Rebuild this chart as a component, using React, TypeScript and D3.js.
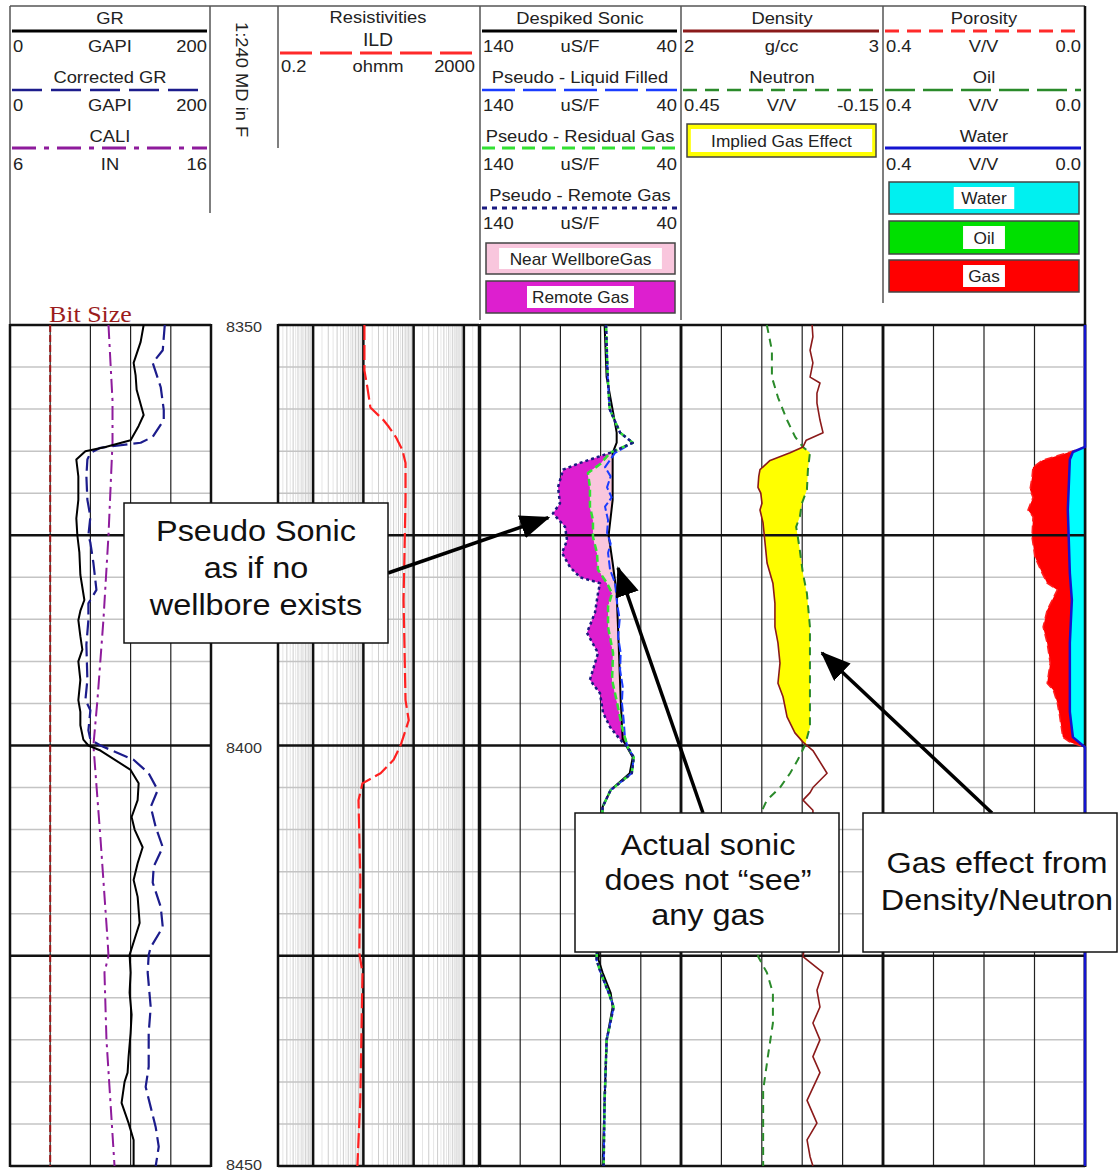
import React from "react";
import * as d3 from "d3";

type Pt = [number, number]; // [depth ft MD, curve value]

// depth window of the plot and the labelled depths
const depthRange: [number, number] = [8350, 8450];
const depthLabels = [8350, 8400, 8450];

// ---- track 1: gamma ray, corrected gamma ray, caliper, bit size
const grCurve: Pt[] = [
  [8350, 133], [8352, 130], [8354.5, 123], [8356, 125], [8357.7, 126], [8360.7, 133], [8362, 128],
  [8363.7, 120], [8364.5, 95], [8365, 75], [8366, 66], [8368, 68], [8370.8, 68], [8373, 66], [8375, 67],
  [8377, 69], [8379.7, 70], [8382.7, 74], [8384, 70], [8385.1, 68], [8387, 70], [8388.6, 72], [8390, 68],
  [8392.2, 70], [8394.6, 68], [8396, 70], [8397.6, 70], [8399.3, 73], [8400, 78], [8400.6, 90],
  [8402.9, 120], [8404.5, 128], [8406.5, 127], [8408.5, 121], [8410, 124], [8412.1, 132], [8414, 127],
  [8416, 123], [8418, 127], [8421.1, 129], [8423, 124], [8424.9, 119], [8427, 120], [8429.4, 119],
  [8432, 121], [8434.2, 120], [8437, 118], [8438.9, 117], [8440, 114], [8442.5, 111], [8444.9, 118],
  [8446.9, 123], [8450, 123],
];
const cgrCurve: Pt[] = [
  [8350, 154], [8353, 152], [8354.5, 142], [8357.4, 150], [8360.1, 153], [8361.3, 153], [8363.3, 142],
  [8364, 130], [8364.6, 90], [8365.2, 80], [8366, 77], [8368, 76], [8370.8, 77], [8372.8, 80], [8375, 78],
  [8375.9, 80], [8378.3, 83], [8381.5, 86], [8383.1, 78], [8385.1, 78], [8388, 76], [8392.2, 77],
  [8394.6, 75], [8395.8, 80], [8398.2, 78], [8399.3, 80], [8400, 90], [8401.7, 123], [8403.3, 138],
  [8405.3, 147], [8407.3, 140], [8409.7, 145], [8412.1, 152], [8414.4, 143], [8416.3, 142], [8419.2, 150],
  [8421.6, 152], [8424, 140], [8424.9, 138], [8427, 137], [8431.1, 140], [8434.2, 138], [8438.2, 138],
  [8440.6, 135], [8443, 140], [8445.4, 145], [8447.7, 148], [8450, 145],
];
const caliCurve: Pt[] = [
  [8350, 10.9], [8359, 11.1], [8364, 11.1], [8375, 10.9], [8385, 10.65], [8394.6, 10.35], [8400, 10.15],
  [8411, 10.5], [8423, 10.85], [8425, 10.9], [8427, 10.7], [8435, 10.8], [8450, 11.2],
];
const bitSize: Pt[] = [[8350, 8], [8450, 8]];

// ---- track 2: deep induction resistivity (ohmm)
const ildCurve: Pt[] = [
  [8350, 10.5], [8355.4, 10.5], [8357.4, 12], [8359.8, 13.8], [8361.3, 25], [8362.1, 32], [8363.3, 44],
  [8364.9, 60], [8366.4, 69], [8370.8, 69], [8382.7, 63], [8394.6, 69], [8397, 80], [8399.3, 60],
  [8400, 55], [8401.7, 40], [8403.3, 22], [8404.5, 9.6], [8406.5, 8], [8416, 8.7], [8424.7, 8.3],
  [8427, 9.6], [8442, 8.7], [8450, 7.6],
];

// ---- track 3: sonic (uS/F)
const dtCurve: Pt[] = [
  [8350, 78], [8356.2, 77], [8360.1, 74], [8362.8, 72], [8364, 72], [8365.2, 74], [8370.8, 74],
  [8375, 76], [8378.3, 74], [8381.9, 72], [8388, 71], [8394.6, 70], [8399.3, 69], [8401.4, 64],
  [8403.3, 65.5], [8405.3, 75], [8407.3, 79], [8415, 80], [8425.5, 81], [8427, 79], [8429.4, 75],
  [8431.1, 74], [8435, 77], [8442.2, 78], [8450, 79],
];
const pseudoAbove: Pt[] = [[8350, 77.3], [8356, 76.5], [8360, 75.5], [8362.8, 70.3], [8364, 64]];
const pseudoBelow: Pt[] = [
  [8400.2, 66.5], [8401.4, 63.5], [8403.3, 64.5], [8405.3, 75], [8407.3, 79], [8415, 80], [8425.5, 82],
  [8427, 80], [8429.4, 76], [8431.1, 73.5], [8435, 77], [8442.2, 78], [8450, 78.5],
];
const liquidZone: Pt[] = [
  [8365.2, 72.8], [8366.9, 77.8], [8368, 75], [8369.3, 76.8], [8370.5, 74.5], [8371.6, 77.8],
  [8373.2, 76.3], [8374.7, 76.8], [8376, 75], [8377.1, 76.3], [8379.1, 75.3], [8380.7, 72.8],
  [8383.1, 71.8], [8385, 70.5], [8387.1, 71.3], [8389, 70], [8391, 70.3], [8393, 69], [8394.9, 69.4],
  [8397, 68.5], [8399, 67.9],
];
const residualZone: Pt[] = [
  [8365.2, 75.3], [8366.5, 80], [8367.6, 86.3], [8369.3, 85.3], [8371.6, 85.3], [8373.2, 83.8],
  [8375.2, 83.8], [8377.1, 81.8], [8379.1, 81.3], [8380.7, 76.8], [8381.9, 74.3], [8383.5, 76.3],
  [8385.9, 76.3], [8389, 73.8], [8392.2, 74.3], [8394.9, 71.8], [8397.8, 69.4],
];
const remoteZone: Pt[] = [
  [8365.2, 75.3], [8366.4, 90.2], [8367.2, 98.7], [8369.3, 101.2], [8371.2, 100.2], [8372.4, 103.7],
  [8374, 97.7], [8375.6, 96.7], [8377.1, 99.2], [8378.8, 95.2], [8380, 90.2], [8380.7, 80.3],
  [8381.9, 81.3], [8384.2, 82.8], [8386.6, 86.8], [8389, 81.3], [8392.2, 85.3], [8393.8, 80.3],
  [8396.1, 78.8], [8397.8, 75.3], [8399.3, 70.3],
];
const liquidCurve: Pt[] = [...pseudoAbove, ...liquidZone, ...pseudoBelow];
const residualCurve: Pt[] = [...pseudoAbove, ...residualZone, ...pseudoBelow];
const remoteCurve: Pt[] = [...pseudoAbove, ...remoteZone, ...pseudoBelow];
const gasZone: [number, number] = [8365.2, 8400.2];

// ---- track 4: bulk density (g/cc) and neutron (V/V)
const rhobCurve: Pt[] = [
  [8350, 2.649], [8351.4, 2.653], [8353, 2.639], [8354.5, 2.653], [8356.2, 2.639], [8356.9, 2.688],
  [8358.1, 2.673], [8359.3, 2.673], [8361.3, 2.688], [8362.8, 2.703], [8363.7, 2.62], [8364.5, 2.604],
  [8365.2, 2.54], [8366.1, 2.441], [8367.2, 2.391], [8368, 2.385], [8369.3, 2.381], [8370, 2.395],
  [8371.2, 2.401], [8372, 2.391], [8373.5, 2.406], [8375.9, 2.416], [8378.3, 2.426], [8380.7, 2.455],
  [8383.1, 2.465], [8385.9, 2.465], [8387.8, 2.48], [8390.2, 2.49], [8392.6, 2.48], [8394.2, 2.505],
  [8396.6, 2.525], [8398.5, 2.564], [8399.6, 2.604], [8400.6, 2.653], [8403.3, 2.723], [8405, 2.653],
  [8405.6, 2.639], [8406.5, 2.604], [8407.7, 2.653], [8416, 2.66], [8425.1, 2.604], [8427, 2.703],
  [8429.1, 2.673], [8431.1, 2.688], [8433, 2.653], [8435, 2.688], [8437, 2.653], [8438.9, 2.688],
  [8442.2, 2.624], [8444.9, 2.673], [8446.9, 2.624], [8448.9, 2.639], [8450, 2.653],
];
const nphiCurve: Pt[] = [
  [8350, 0.195], [8353, 0.18], [8356.2, 0.18], [8358.6, 0.162], [8361.3, 0.135], [8363.3, 0.111],
  [8364.5, 0.088], [8365.2, 0.067], [8367.2, 0.073], [8369.6, 0.076], [8371.2, 0.091], [8372.8, 0.097],
  [8374, 0.108], [8375.2, 0.103], [8376.8, 0.097], [8379.5, 0.088], [8381.9, 0.076], [8385.9, 0.067],
  [8391.9, 0.067], [8397.8, 0.067], [8400, 0.082], [8401.7, 0.103], [8403.3, 0.126], [8405, 0.156],
  [8406.5, 0.195], [8407.7, 0.209], [8416, 0.215], [8425.1, 0.221], [8427, 0.195], [8429.4, 0.177],
  [8433, 0.177], [8437, 0.192], [8441, 0.206], [8445, 0.206], [8450, 0.206],
];

// ---- track 5: porosity and water volume (V/V)
const phiCurve: Pt[] = [
  [8350, 0], [8364.5, 0], [8365.1, 0.03], [8366.1, 0.085], [8366.9, 0.103], [8368.1, 0.105],
  [8369.6, 0.109], [8370.5, 0.103], [8372, 0.113], [8372.8, 0.103], [8375.2, 0.105], [8377.6, 0.099],
  [8379.5, 0.085], [8380.7, 0.075], [8381.5, 0.055], [8382.7, 0.065], [8383.9, 0.075], [8385.9, 0.083],
  [8387.8, 0.075], [8390.2, 0.069], [8392.6, 0.075], [8393.4, 0.063], [8394.9, 0.055], [8396.6, 0.05],
  [8399, 0.044], [8399.6, 0.03], [8400.2, 0], [8450, 0],
];
const waterCurve: Pt[] = [
  [8350, 0], [8364.5, 0], [8365.1, 0.024], [8366, 0.03], [8372, 0.034], [8379.5, 0.03], [8382.7, 0.026],
  [8387.8, 0.03], [8396, 0.03], [8399, 0.024], [8400.2, 0], [8450, 0],
];
const zeroLine: Pt[] = [[8350, 0], [8450, 0]];

// ---- header texts
const grTitles = ["GR", "Corrected GR", "CALI"];
const grScales = [["0", "GAPI", "200"], ["0", "GAPI", "200"], ["6", "IN", "16"]];
const resTitles = ["Resistivities", "ILD"];
const resScale = ["0.2", "ohmm", "2000"];
const sonicTitles = ["Despiked Sonic", "Pseudo - Liquid Filled", "Pseudo - Residual Gas", "Pseudo - Remote Gas"];
const sonicScale = ["140", "uS/F", "40"];
const densTitles = ["Density", "Neutron"];
const densScales = [["2", "g/cc", "3"], ["0.45", "V/V", "-0.15"]];
const porTitles = ["Porosity", "Oil", "Water"];
const porScale = ["0.4", "V/V", "0.0"];
const sonicFills = ["Near WellboreGas", "Remote Gas"];
const densFill = "Implied Gas Effect";
const porFills = ["Water", "Oil", "Gas"];
const depthCaption = "1:240 MD in F";
const notes = [
  ["Pseudo Sonic", "as if no", "wellbore exists"],
  ["Actual sonic", "does not \u201csee\u201d", "any gas"],
  ["Gas effect from", "Density/Neutron"],
];

const FONT = "'Liberation Sans', Arial, Helvetica, sans-serif";
const STRETCH = 1.08;

const y = d3.scaleLinear().domain(depthRange).range([325, 1166]);
const T1: [number, number] = [10, 211];
const T2: [number, number] = [278, 479];
const T3: [number, number] = [480, 681];
const T4: [number, number] = [681, 883];
const T5: [number, number] = [883, 1085];

const xGR = d3.scaleLinear().domain([0, 200]).range(T1);
const xCali = d3.scaleLinear().domain([6, 16]).range(T1);
const xRes = d3.scaleLog().domain([0.2, 2000]).range(T2);
const xSonic = d3.scaleLinear().domain([140, 40]).range(T3);
const xRhob = d3.scaleLinear().domain([2, 3]).range(T4);
const xNphi = d3.scaleLinear().domain([0.45, -0.15]).range(T4);
const xPor = d3.scaleLinear().domain([0.4, 0]).range(T5);

const linePath = (curve: Pt[], xs: (v: number) => number) =>
  d3.line<Pt>().x(p => xs(p[1])).y(p => y(p[0]))(curve) || "";

// value of a curve at a depth, used only to shade between two curves
const valueAt = (curve: Pt[], d: number) => {
  const i = d3.bisector((p: Pt) => p[0]).left(curve, d);
  if (i <= 0) return curve[0][1];
  if (i >= curve.length) return curve[curve.length - 1][1];
  const [d0, v0] = curve[i - 1];
  const [d1, v1] = curve[i];
  return d1 === d0 ? v1 : v0 + ((v1 - v0) * (d - d0)) / (d1 - d0);
};

const band = (a: Pt[], xa: (v: number) => number, b: Pt[], xb: (v: number) => number, lo: number, hi: number) => {
  const depths = Array.from(new Set([...a, ...b].map(p => p[0]).concat([lo, hi])))
    .filter(d => d >= lo && d <= hi)
    .sort((p, q) => p - q);
  const rows = depths.map(d => {
    const x0 = xa(valueAt(a, d));
    return { d, x0, x1: Math.max(x0, xb(valueAt(b, d))) };
  });
  return d3.area<{ d: number; x0: number; x1: number }>().y(r => y(r.d)).x0(r => r.x0).x1(r => r.x1)(rows) || "";
};

const Txt = ({ x, y: ty, size = 17, anchor = "middle", fill = "#222", rot = 0, family = FONT, children }: any) => (
  <text
    transform={`translate(${x},${ty}) rotate(${rot}) scale(${STRETCH},1)`}
    fontSize={size}
    textAnchor={anchor}
    fill={fill}
    fontFamily={family}
  >
    {children}
  </text>
);

const ScaleRow = ({ t, yy, labels }: { t: [number, number]; yy: number; labels: string[] }) => (
  <g>
    <Txt x={t[0] + 3} y={yy} anchor="start">{labels[0]}</Txt>
    <Txt x={(t[0] + t[1]) / 2} y={yy}>{labels[1]}</Txt>
    <Txt x={t[1] - 3} y={yy} anchor="end">{labels[2]}</Txt>
  </g>
);

const HeaderLine = ({ t, yy, stroke, dash, w = 2.5 }: any) => (
  <line x1={t[0] + 2} x2={t[1] - 3} y1={yy} y2={yy} stroke={stroke} strokeWidth={w} strokeDasharray={dash} />
);

const TrackGrid = ({ t, verticals, faint = [], fainter = [] }: { t: [number, number]; verticals: number[]; faint?: number[]; fainter?: number[] }) => {
  const steps = d3.range(depthRange[0], depthRange[1] + 1, 5);
  return (
    <g>
      {fainter.map((x, i) => (
        <line key={"ff" + i} x1={x} x2={x} y1={325} y2={1166} stroke="#e6e6e6" strokeWidth={1} />
      ))}
      {faint.map((x, i) => (
        <line key={"f" + i} x1={x} x2={x} y1={325} y2={1166} stroke="#cdcdcd" strokeWidth={1} />
      ))}
      {steps.filter(d => d % 25 !== 0).map(d => (
        <line key={"h" + d} x1={t[0]} x2={t[1]} y1={y(d)} y2={y(d)} stroke="#c4c4c4" strokeWidth={1.5} />
      ))}
      {verticals.map((x, i) => (
        <line key={"v" + i} x1={x} x2={x} y1={325} y2={1166} stroke="#222" strokeWidth={1.2} />
      ))}
    </g>
  );
};

const TrackFrame = ({ t, thick = [] }: { t: [number, number]; thick?: number[] }) => {
  const majors = d3.range(depthRange[0], depthRange[1] + 1, 25);
  return (
    <g>
      {thick.map((x, i) => (
        <line key={"t" + i} x1={x} x2={x} y1={325} y2={1166} stroke="#111" strokeWidth={2.5} />
      ))}
      {majors.map(d => (
        <line key={"m" + d} x1={t[0]} x2={t[1]} y1={y(d)} y2={y(d)} stroke="#111" strokeWidth={2.5} />
      ))}
      <line x1={t[0]} x2={t[0]} y1={324} y2={1167} stroke="#111" strokeWidth={2.5} />
      <line x1={t[1]} x2={t[1]} y1={324} y2={1167} stroke="#111" strokeWidth={2.5} />
    </g>
  );
};

const LegendBox = ({ x, yy, w, h, fill, label, size = 16 }: any) => {
  const lw = label.length * 9.3 + 14;
  return (
    <g>
      <rect x={x} y={yy} width={w} height={h} fill={fill} stroke="#444" strokeWidth={1.5} />
      <rect x={x + w / 2 - lw / 2} y={yy + 5} width={lw} height={h - 10} fill="#fff" />
      <Txt x={x + w / 2} y={yy + h / 2 + 6} size={size}>{label}</Txt>
    </g>
  );
};

export default function App() {
  const grTicks = d3.range(0, 201, 40).map(xGR);
  const sonicTicks = d3.range(140, 39, -20).map(xSonic);
  const densTicks = d3.range(2, 3.01, 0.2).map(xRhob);
  const porTicks = d3.range(0.4, -0.01, -0.1).map(xPor);
  const resMajors = [1, 10, 100, 1000];
  const decades = d3.range(-1, 4).map(k => 10 ** k);
  const resInt = decades.flatMap(p => d3.range(2, 10).map(m => m * p)).filter(v => v > 0.2 && v < 2000);
  const resHalf = decades.flatMap(p => d3.range(1.5, 10, 1).map(m => m * p)).filter(v => v > 0.2 && v < 2000);

  const sonicArrowTip = [xSonic(106), y(8372.9)];
  const dtArrowTip = [xSonic(71.3), y(8378.9)];
  const densArrowTip = [xRhob(2.698), y(8389)];

  return (
    <div style={{ position: "absolute", left: 0, top: 0 }}>
      <svg width={1119} height={1174} style={{ display: "block", background: "#fff" }}>
        <defs>
          <marker id="head" markerUnits="userSpaceOnUse" markerWidth={30} markerHeight={24} refX={28} refY={12} orient="auto">
            <path d="M0,0 L30,12 L0,24 Z" fill="#000" />
          </marker>
        </defs>

        {/* ---------- header frame ---------- */}
        <g stroke="#555" strokeWidth={1.5}>
          <line x1={10} x2={1085} y1={6} y2={6} />
          <line x1={10} x2={10} y1={6} y2={325} />
          <line x1={210} x2={210} y1={6} y2={213} />
          <line x1={278} x2={278} y1={6} y2={148} />
          <line x1={480} x2={480} y1={6} y2={320} />
          <line x1={681} x2={681} y1={6} y2={320} />
          <line x1={883} x2={883} y1={6} y2={303} />
        </g>
        <line x1={1085} x2={1085} y1={6} y2={1167} stroke="#111" strokeWidth={2.5} />

        {/* GR header */}
        {grTitles.map((tt, i) => (
          <g key={tt}>
            <Txt x={110} y={24 + 59 * i}>{tt}</Txt>
            <ScaleRow t={[10, 210]} yy={52 + 59 * i} labels={grScales[i]} />
          </g>
        ))}
        <HeaderLine t={[10, 210]} yy={31} stroke="#000" w={3} />
        <HeaderLine t={[10, 210]} yy={90} stroke="#1c1c8c" dash="30 9" />
        <HeaderLine t={[10, 210]} yy={148} stroke="#8e1b9c" dash="24 8 5 8" w={3} />

        <Txt x={236} y={22} rot={90} anchor="start">{depthCaption}</Txt>

        {/* resistivity header */}
        <Txt x={378} y={23}>{resTitles[0]}</Txt>
        <Txt x={378} y={46} size={18}>{resTitles[1]}</Txt>
        <HeaderLine t={[278, 478]} yy={53} stroke="#ff2a2a" dash="32 8" w={3} />
        <ScaleRow t={[278, 478]} yy={72} labels={resScale} />

        {/* sonic header */}
        {sonicTitles.map((tt, i) => (
          <g key={tt}>
            <Txt x={580} y={24 + 59 * i}>{tt}</Txt>
            <ScaleRow t={[480, 680]} yy={52 + 59 * i} labels={sonicScale} />
          </g>
        ))}
        <HeaderLine t={[480, 680]} yy={31} stroke="#000" w={3} />
        <HeaderLine t={[480, 680]} yy={90} stroke="#1a3cff" dash="33 8" />
        <HeaderLine t={[480, 680]} yy={148} stroke="#33e033" dash="13 7" w={3} />
        <HeaderLine t={[480, 680]} yy={208} stroke="#1a1a80" dash="5 5" w={3} />
        <LegendBox x={486} yy={243} w={189} h={31} fill="#f9c6dd" label={sonicFills[0]} />
        <LegendBox x={486} yy={281} w={189} h={32} fill="#dd1fcf" label={sonicFills[1]} />

        {/* density header */}
        {densTitles.map((tt, i) => (
          <g key={tt}>
            <Txt x={782} y={24 + 59 * i}>{tt}</Txt>
            <ScaleRow t={[681, 882]} yy={52 + 59 * i} labels={densScales[i]} />
          </g>
        ))}
        <HeaderLine t={[681, 882]} yy={31} stroke="#8b1a1a" w={3} />
        <HeaderLine t={[681, 882]} yy={90} stroke="#2a8a2a" dash="14 8" />
        <LegendBox x={687} yy={124} w={189} h={33} fill="#ffff00" label={densFill} />

        {/* porosity header */}
        {porTitles.map((tt, i) => (
          <g key={tt}>
            <Txt x={984} y={24 + 59 * i}>{tt}</Txt>
            <ScaleRow t={[883, 1084]} yy={52 + 59 * i} labels={porScale} />
          </g>
        ))}
        <HeaderLine t={[883, 1084]} yy={31} stroke="#ff2a2a" dash="14 8" w={3} />
        <HeaderLine t={[883, 1084]} yy={90} stroke="#2a8a2a" dash="30 8" />
        <HeaderLine t={[883, 1084]} yy={148} stroke="#1414d0" w={3} />
        <LegendBox x={889} yy={182} w={190} h={32} fill="#00f0f0" label={porFills[0]} />
        <LegendBox x={889} yy={221} w={190} h={33} fill="#00e000" label={porFills[1]} />
        <LegendBox x={889} yy={260} w={190} h={32} fill="#ff0000" label={porFills[2]} />

        <Txt x={49} y={322} size={24} anchor="start" fill="#9b1c1c" family="'Liberation Serif', 'Times New Roman', serif">
          Bit Size
        </Txt>

        {/* ---------- grids ---------- */}
        <TrackGrid t={T1} verticals={grTicks} />
        <TrackGrid t={T2} verticals={[]} faint={resInt.map(v => xRes(v))} fainter={resHalf.map(v => xRes(v))} />
        <TrackGrid t={T3} verticals={sonicTicks} />
        <TrackGrid t={T4} verticals={densTicks} />
        <TrackGrid t={T5} verticals={porTicks} />

        {/* ---------- fills ---------- */}
        <path d={band(remoteCurve, xSonic, residualCurve, xSonic, gasZone[0], gasZone[1])} fill="#dd1fcf" />
        <path d={band(residualCurve, xSonic, dtCurve, xSonic, gasZone[0], gasZone[1])} fill="#f9c6dd" />
        <path d={band(rhobCurve, xRhob, nphiCurve, xNphi, 8364, 8401)} fill="#ffff00" />
        <path d={band(phiCurve, xPor, waterCurve, xPor, 8364, 8401)} fill="#ff0000" />
        <path d={band(waterCurve, xPor, zeroLine, xPor, 8364, 8401)} fill="#00ffff" />

        {/* ---------- frames ---------- */}
        <TrackFrame t={T1} />
        <TrackFrame t={T2} thick={resMajors.map(v => xRes(v))} />
        <TrackFrame t={T3} />
        <TrackFrame t={T4} />
        <TrackFrame t={T5} />

        {depthLabels.map((d, i) => (
          <Txt key={d} x={244} y={y(d) + (i === depthLabels.length - 1 ? 4 : 7)} size={15} fill="#333">{d}</Txt>
        ))}

        {/* ---------- curves ---------- */}
        <g fill="none" strokeLinejoin="round">
          <path d={linePath(bitSize, xCali)} stroke="#a01818" strokeWidth={2} strokeDasharray="7 3" />
          <path d={linePath(caliCurve, xCali)} stroke="#8e1b9c" strokeWidth={2} strokeDasharray="14 5 3 5" />
          <path d={linePath(cgrCurve, xGR)} stroke="#1c1c8c" strokeWidth={2.2} strokeDasharray="15 6" />
          <path d={linePath(grCurve, xGR)} stroke="#000" strokeWidth={2} />

          <path d={linePath(ildCurve, v => xRes(v))} stroke="#ff2020" strokeWidth={2.2} strokeDasharray="15 5" />

          <path d={linePath(dtCurve, xSonic)} stroke="#000" strokeWidth={2} />
          <path d={linePath(liquidCurve, xSonic)} stroke="#1a3cff" strokeWidth={2} strokeDasharray="9 3" />
          <path d={linePath(residualCurve, xSonic)} stroke="#33e033" strokeWidth={2.5} strokeDasharray="7 4" />
          <path d={linePath(remoteCurve, xSonic)} stroke="#1a1a80" strokeWidth={2.5} strokeDasharray="3 3" />

          <path d={linePath(nphiCurve, xNphi)} stroke="#2a8a2a" strokeWidth={2} strokeDasharray="8 6" />
          <path d={linePath(rhobCurve, xRhob)} stroke="#8b1a1a" strokeWidth={1.6} />

          <path d={linePath(phiCurve, xPor)} stroke="#ff2020" strokeWidth={1.5} strokeDasharray="8 4" />
          <path d={linePath(waterCurve, xPor)} stroke="#1414d0" strokeWidth={2.5} />
        </g>

        {/* ---------- callouts ---------- */}
        <g stroke="#000" strokeWidth={3.5} markerEnd="url(#head)">
          <line x1={388} y1={573} x2={sonicArrowTip[0]} y2={sonicArrowTip[1]} />
          <line x1={703} y1={813} x2={dtArrowTip[0]} y2={dtArrowTip[1]} />
          <line x1={992} y1={813} x2={densArrowTip[0]} y2={densArrowTip[1]} />
        </g>

        <rect x={124} y={503} width={264} height={140} fill="#fff" stroke="#111" strokeWidth={1.5} />
        {notes[0].map((s, i) => (
          <Txt key={s} x={256} y={541 + 37 * i} size={30} fill="#111">{s}</Txt>
        ))}
        <rect x={575} y={813} width={264} height={139} fill="#fff" stroke="#111" strokeWidth={1.5} />
        {notes[1].map((s, i) => (
          <Txt key={s} x={708} y={855 + 35 * i} size={30} fill="#111">{s}</Txt>
        ))}
        <rect x={863} y={813} width={254} height={139} fill="#fff" stroke="#111" strokeWidth={1.5} />
        {notes[2].map((s, i) => (
          <Txt key={s} x={997} y={873 + 37 * i} size={30} fill="#111">{s}</Txt>
        ))}
      </svg>
    </div>
  );
}
